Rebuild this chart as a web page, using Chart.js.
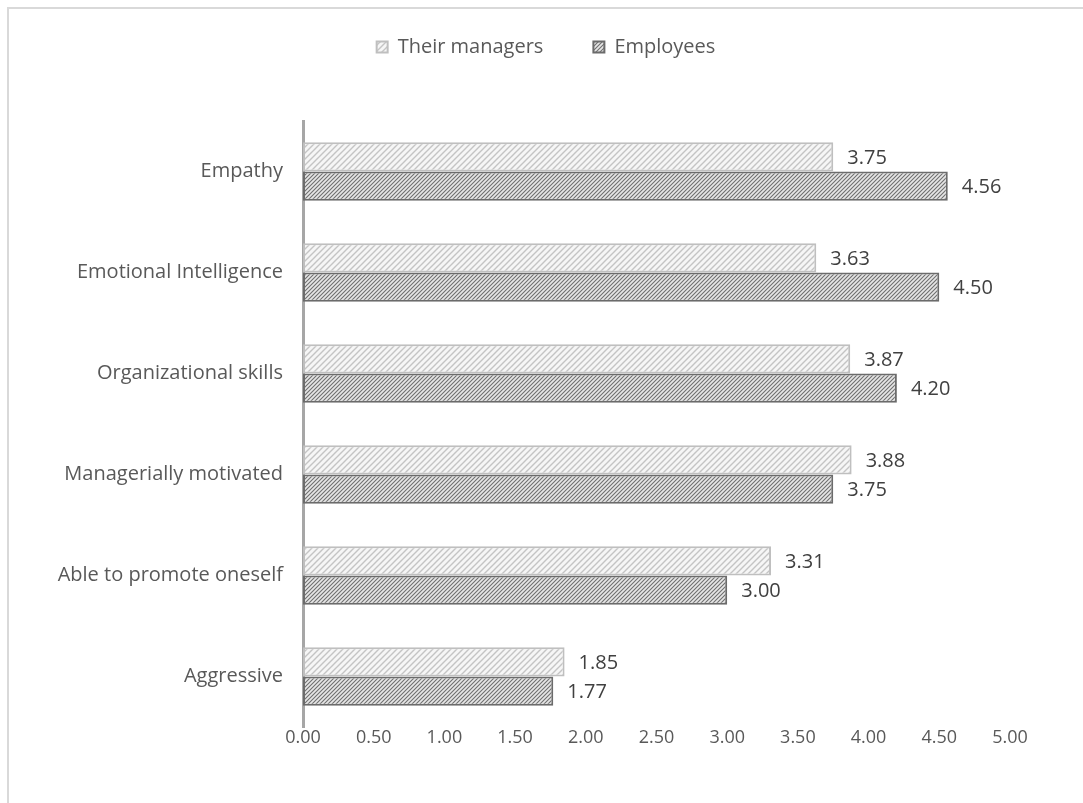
<!DOCTYPE html>
<html>
<head>
<meta charset="utf-8">
<script src="https://cdn.jsdelivr.net/npm/chart.js@4"></script>
<style>
  html, body { margin: 0; padding: 0; background: #fff; }
  body { width: 1083px; height: 803px; overflow: hidden; position: relative; }
  #frame { position: absolute; left: 7px; top: 7px; width: 1100px; height: 820px;
           border-left: 2px solid #d9d9d9; border-top: 2px solid #d9d9d9; }
  #wrap { position: absolute; left: 9px; top: -13px; width: 1074px; height: 816px; }
</style>
</head>
<body>
<div id="frame"></div>
<div id="wrap"><canvas id="barChartQualities" width="1074" height="816"></canvas></div>
<script>
const categories = ["Empathy", "Emotional Intelligence", "Organizational skills",
    "Managerially motivated", "Able to promote oneself", "Aggressive"];
const managers = [3.75, 3.63, 3.87, 3.88, 3.31, 1.85];
const employees = [4.56, 4.50, 4.20, 3.75, 3.00, 1.77];
const xTicks = [0, 0.5, 1, 1.5, 2, 2.5, 3, 3.5, 4, 4.5, 5];

const FONT = '"Open Sans", sans-serif';

// diagonal hatch like the Excel pattern fill
function hatch(bg, fg, size, width) {
    const c = document.createElement('canvas');
    c.width = size; c.height = size;
    const g = c.getContext('2d');
    g.fillStyle = bg;
    g.fillRect(0, 0, size, size);
    g.strokeStyle = fg;
    g.lineWidth = width;
    g.beginPath();
    g.moveTo(-1, size + 1); g.lineTo(size + 1, -1);
    g.moveTo(-1, 1); g.lineTo(1, -1);
    g.moveTo(size - 1, size + 1); g.lineTo(size + 1, size - 1);
    g.stroke();
    return g.createPattern(c, 'repeat');
}

const valueLabels = {
    id: 'valueLabels',
    afterDatasetsDraw(chart) {
        const ctx = chart.ctx;
        ctx.save();
        ctx.font = '20px ' + FONT;
        ctx.fillStyle = '#404040';
        ctx.textAlign = 'left';
        ctx.textBaseline = 'middle';
        chart.data.datasets.forEach((ds, i) => {
            chart.getDatasetMeta(i).data.forEach((bar, j) => {
                ctx.fillText(ds.data[j].toFixed(2), bar.x + 14, bar.y + 1);
            });
        });
        ctx.restore();
    }
};

// spacer scales: no ticks, only reserve room
const spacer = (position, size) => ({
    type: 'linear',
    position: position,
    afterFit: axis => {
        if (position === 'top') axis.height = size; else axis.width = size;
    },
    grid: { display: false, drawTicks: false },
    border: { display: false },
    ticks: { display: false }
});

const ctx = document.getElementById('barChartQualities').getContext('2d');
new Chart(ctx, {
    type: 'bar',
    data: {
        labels: categories,
        datasets: [{
            label: 'Their managers',
            data: managers,
            xAxisID: 'x',
            yAxisID: 'y',
            backgroundColor: hatch('#f6f6f6', '#c4c4c4', 6, 1.4),
            borderColor: '#bfbfbf',
            borderWidth: 2,
            borderSkipped: false,
        },
            {
                label: 'Employees',
                data: employees,
                xAxisID: 'x',
                yAxisID: 'y',
                backgroundColor: hatch('#e6e6e6', '#6f6f6f', 4, 1.1),
                borderColor: '#6b6b6b',
                borderWidth: 2,
                borderSkipped: false,
            }
        ],
    },
    options: {
        indexAxis: 'y',
        responsive: false,
        animation: false,
        maintainAspectRatio: false,
        categoryPercentage: 0.58,
        barPercentage: 1.0,
        layout: { padding: { top: 0, right: 0, bottom: 46, left: 0 } },
        plugins: {
            legend: {
                display: true,
                position: 'top',
                labels: {
                    color: '#595959',
                    font: { family: FONT, size: 20 },
                    boxWidth: 11,
                    boxHeight: 11,
                    padding: 50,
                }
            },
            tooltip: { enabled: false }
        },
        scales: {
            x: {
                min: 0,
                max: 5,
                afterBuildTicks: axis => { axis.ticks = xTicks.map(v => ({ value: v })); },
                afterFit: axis => { axis.height = 30; },
                grid: { display: false, drawTicks: false },
                border: { display: false },
                ticks: {
                    color: '#595959',
                    padding: 0,
                    font: { family: FONT, size: 18 },
                    callback: v => Number(v).toFixed(2)
                }
            },
            y: {
                afterFit: axis => { axis.width = 294; },
                grid: { display: false },
                border: { color: '#a6a6a6', width: 3 },
                ticks: {
                    color: '#595959',
                    padding: 12,
                    font: { family: FONT, size: 20 }
                }
            },
            gapTop: spacer('top', 54),
            gapRight: spacer('right', 73)
        }
    },
    plugins: [valueLabels]
});
</script>
</body>
</html>
